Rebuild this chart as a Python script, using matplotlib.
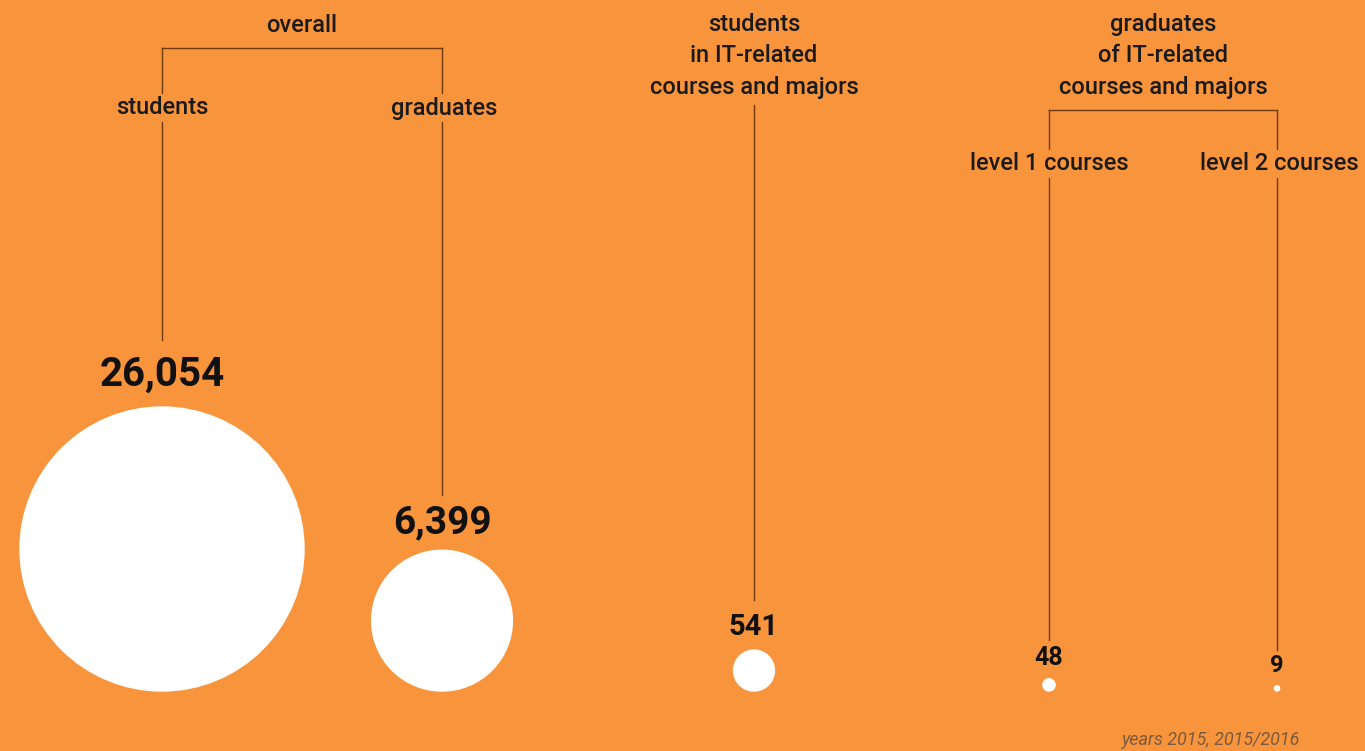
import numpy as np
import matplotlib
matplotlib.use('Agg')
import matplotlib.pyplot as plt
from matplotlib.patches import Circle

# data
values = [26054, 6399, 541, 48, 9]
value_labels = ['26,054', '6,399', '541', '48', '9']
group_titles = ['overall', 'students\nin IT-related\ncourses and majors',
                'graduates\nof IT-related\ncourses and majors']
sub_labels = ['students', 'graduates', 'level 1 courses', 'level 2 courses']
footnote = 'years 2015, 2015/2016'

bg = '#F8943B'
line_col = '#6E3A0E'
plt.rcParams['font.family'] = ['Roboto', 'DejaVu Sans']

fig = plt.figure(figsize=(13.65, 7.51), dpi=100)
fig.patch.set_facecolor(bg)
ax = fig.add_axes([0, 0, 1, 1])
ax.set_xlim(0, 1365)
ax.set_ylim(751, 0)
ax.set_aspect('equal')
ax.axis('off')

# circle layout (pixel space), area proportional to value
xs = [162, 442, 754, 1049, 1277]
baseline = 691
r_max = 142
radii = [r_max * np.sqrt(v / max(values)) for v in values]
num_sizes = [29, 28, 21, 18, 17]
num_gap = [13, 9, 9, 9, 9]
line_ends = [340, 495, 600, 640, 650]

for x, r, lab, fs, gap in zip(xs, radii, value_labels, num_sizes, num_gap):
    cy = baseline - r
    ax.add_patch(Circle((x, cy), r, color='white', zorder=3))
    ax.text(x, cy - r - gap, lab, ha='center', va='bottom', fontsize=fs,
            fontweight='bold', color='#111111', zorder=4)

# connector lines
lw = 1.0
ax.plot([xs[0], xs[1]], [48, 48], color=line_col, lw=lw)
ax.plot([xs[0], xs[0]], [48, line_ends[0]], color=line_col, lw=lw)
ax.plot([xs[1], xs[1]], [48, line_ends[1]], color=line_col, lw=lw)
ax.plot([xs[2], xs[2]], [105, line_ends[2]], color=line_col, lw=lw)
ax.plot([xs[3], xs[4]], [110, 110], color=line_col, lw=lw)
ax.plot([xs[3], xs[3]], [110, line_ends[3]], color=line_col, lw=lw)
ax.plot([xs[4], xs[4]], [110, line_ends[4]], color=line_col, lw=lw)

box = dict(facecolor=bg, edgecolor='none', pad=2)
txt = dict(ha='center', va='center', fontsize=17, fontweight='medium',
           color='#1a1a1a', zorder=5)

ax.text((xs[0] + xs[1]) / 2, 26, group_titles[0], bbox=box, **txt)
ax.text(xs[2], 56, group_titles[1], linespacing=1.45, **txt)
ax.text((xs[3] + xs[4]) / 2, 56, group_titles[2], linespacing=1.45, **txt)

for x, y, lab in zip([xs[0], xs[1] + 2, xs[3], xs[4] + 2], [108, 108, 164, 164], sub_labels):
    ax.text(x, y, lab, bbox=box, **txt)

ax.text(1300, 740, footnote, ha='right', va='center', fontsize=13,
        style='italic', color='#7a5a40')

fig.savefig('out.png', dpi=100, facecolor=bg)
